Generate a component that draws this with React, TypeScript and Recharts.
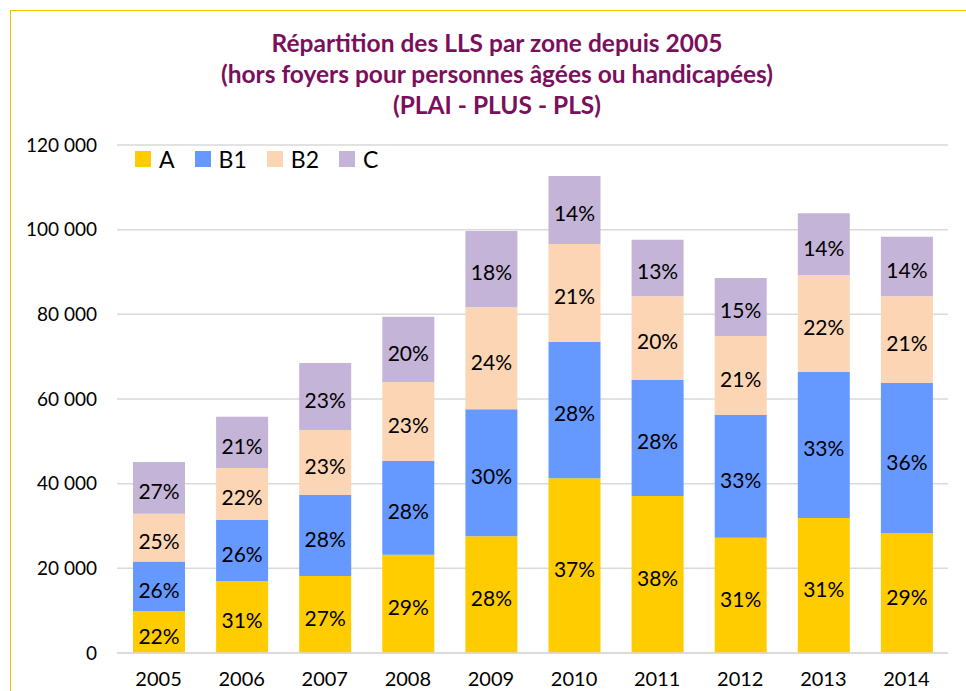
import React from 'react';
import { BarChart, Bar, XAxis, YAxis, CartesianGrid, Legend, LabelList } from 'recharts';

const years = ['2005', '2006', '2007', '2008', '2009', '2010', '2011', '2012', '2013', '2014'];
const zoneA = [9900, 17000, 18200, 23200, 27600, 41300, 37100, 27200, 31900, 28300];
const zoneB1 = [11700, 14400, 19100, 22200, 30000, 32200, 27400, 29000, 34500, 35500];
const zoneB2 = [11300, 12300, 15400, 18600, 24100, 23100, 19800, 18700, 22900, 20500];
const zoneC = [12200, 12100, 15800, 15400, 18000, 16100, 13300, 13700, 14600, 14000];

const pctA = ['22%', '31%', '27%', '29%', '28%', '37%', '38%', '31%', '31%', '29%'];
const pctB1 = ['26%', '26%', '28%', '28%', '30%', '28%', '28%', '33%', '33%', '36%'];
const pctB2 = ['25%', '22%', '23%', '23%', '24%', '21%', '20%', '21%', '22%', '21%'];
const pctC = ['27%', '21%', '23%', '20%', '18%', '14%', '13%', '15%', '14%', '14%'];

const yTicks = [0, 20000, 40000, 60000, 80000, 100000, 120000];

const titleLines = [
  'Répartition des LLS par zone depuis 2005',
  '(hors foyers pour personnes âgées ou handicapées)',
  '(PLAI - PLUS - PLS)',
];

const data = years.map((y, i) => ({
  year: y,
  A: zoneA[i],
  B1: zoneB1[i],
  B2: zoneB2[i],
  C: zoneC[i],
  pA: pctA[i],
  pB1: pctB1[i],
  pB2: pctB2[i],
  pC: pctC[i],
}));

const FONT = 'Lato, "Open Sans", sans-serif';

const fmt = (v: number) => (v === 0 ? '0' : `${Math.floor(v / 1000)} 000`);

const LegendContent = ({ payload }: any) => (
  <div style={{ display: 'flex', alignItems: 'center', height: 25, fontFamily: FONT, fontSize: 23, color: '#000' }}>
    {(payload || []).map((p: any) => (
      <div key={p.value} style={{ display: 'flex', alignItems: 'center', marginRight: 20 }}>
        <span style={{ width: 16, height: 16, background: p.color, display: 'inline-block', marginRight: 8 }} />
        <span>{p.value}</span>
      </div>
    ))}
  </div>
);

const series = [
  { key: 'A', pct: 'pA', color: '#FFCC00' },
  { key: 'B1', pct: 'pB1', color: '#6699FF' },
  { key: 'B2', pct: 'pB2', color: '#FCD5B4' },
  { key: 'C', pct: 'pC', color: '#C4B4D8' },
];

export default function App() {
  return (
    <div style={{ position: 'absolute', left: 0, top: 0, width: 966, height: 691, overflow: 'hidden', background: '#fff' }}>
      <div style={{ position: 'absolute', left: 10, top: 10, width: 1000, height: 1000, border: '1.5px solid #FFC000' }} />
      <div style={{ position: 'absolute', left: 0, top: 27, width: 994, textAlign: 'center', fontFamily: FONT, fontWeight: 'bold', fontSize: 24.5, lineHeight: '31px', color: '#7A0F5C' }}>
        {titleLines.map((t) => (
          <div key={t}>{t}</div>
        ))}
      </div>
      <BarChart
        width={966}
        height={691}
        data={data}
        margin={{ top: 120, right: 18, bottom: 8, left: 17 }}
        barSize={52}
        style={{ position: 'absolute', left: 0, top: 0 }}
      >
        <CartesianGrid vertical={false} stroke="#D9D9D9" strokeWidth={1.5} />
        <XAxis
          dataKey="year"
          height={30}
          axisLine={{ stroke: '#D9D9D9', strokeWidth: 1.5 }}
          tickLine={false}
          tickSize={0}
          tickMargin={19}
          tick={{ fill: '#000', fontSize: 20, fontFamily: FONT }}
        />
        <YAxis
          width={100}
          domain={[0, 120000]}
          ticks={yTicks}
          tickFormatter={fmt}
          axisLine={false}
          tickLine={false}
          tickSize={0}
          tickMargin={20}
          tick={{ fill: '#000', fontSize: 19, fontFamily: FONT }}
        />
        <Legend
          verticalAlign="top"
          align="left"
          height={25}
          content={<LegendContent />}
          wrapperStyle={{ top: 146, left: 135, width: 400 }}
        />
        {series.map((s) => (
          <Bar key={s.key} dataKey={s.key} stackId="z" fill={s.color} isAnimationActive={false}>
            <LabelList dataKey={s.pct} position="center" fill="#000" fontSize={21} fontFamily={FONT} dy={4} />
          </Bar>
        ))}
      </BarChart>
    </div>
  );
}
